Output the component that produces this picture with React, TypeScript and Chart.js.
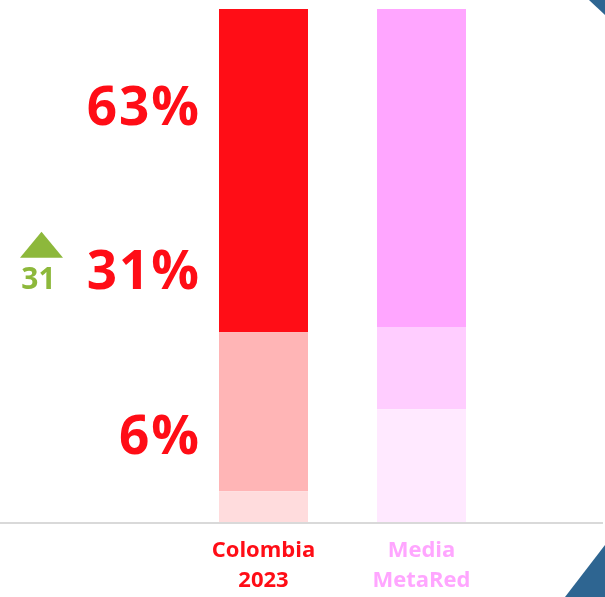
import React, { useEffect, useRef } from "react";
import { Chart, registerables } from "chart.js";

Chart.register(...registerables);

const categories: string[][] = [["Colombia", "2023"], ["Media", "MetaRed"]];
const bottomValues = [6, 22];
const middleValues = [31, 16];
const topValues = [63, 62];
const bottomColors = ["#FFDCDD", "#FFE9FF"];
const middleColors = ["#FFB5B6", "#FFCDFF"];
const topColors = ["#FF0D16", "#FFA6FF"];
const tickColors = ["#FF0D16", "#FFA6FF"];
// Left-side labels (Colombia values) and the y-value at which each sits
const sideLabels = [63, 31, 6];
const sideLabelY = [81, 49, 16.7];
const changeValue = 31;

const FONT = "'Open Sans', 'Noto Sans', sans-serif";

const decorPlugin = {
  id: "decor",
  beforeDraw(chart: any) {
    const { ctx, chartArea, width, height } = chart;
    ctx.save();
    ctx.fillStyle = "#ffffff";
    ctx.fillRect(0, 0, width, height);
    // corner triangles
    ctx.fillStyle = "#2E6591";
    ctx.beginPath();
    ctx.moveTo(589, 0);
    ctx.lineTo(width, 0);
    ctx.lineTo(width, 15);
    ctx.closePath();
    ctx.fill();
    ctx.beginPath();
    ctx.moveTo(565, height);
    ctx.lineTo(width, 545);
    ctx.lineTo(width, height);
    ctx.closePath();
    ctx.fill();
    // baseline
    ctx.strokeStyle = "#D9D9D9";
    ctx.lineWidth = 2;
    ctx.beginPath();
    ctx.moveTo(0, chartArea.bottom + 1);
    ctx.lineTo(603, chartArea.bottom + 1);
    ctx.stroke();
    ctx.restore();
  },
  afterDraw(chart: any) {
    const { ctx } = chart;
    const y = chart.scales.y;
    ctx.save();
    ctx.fillStyle = "#FF0D16";
    ctx.font = `bold 53px ${FONT}`;
    (ctx as any).letterSpacing = "2px";
    ctx.textAlign = "right";
    ctx.textBaseline = "middle";
    sideLabels.forEach((v, i) => {
      ctx.fillText(`${v}%`, 201, y.getPixelForValue(sideLabelY[i]) + 3);
    });
    (ctx as any).letterSpacing = "0px";
    // green change indicator
    const yc = y.getPixelForValue(sideLabelY[1]);
    ctx.fillStyle = "#8DB83B";
    ctx.beginPath();
    ctx.moveTo(41.5, yc - 39);
    ctx.lineTo(63, yc - 13);
    ctx.lineTo(20, yc - 13);
    ctx.closePath();
    ctx.fill();
    ctx.font = `bold 30px ${FONT}`;
    ctx.textAlign = "center";
    ctx.fillText(String(changeValue), 38.5, yc + 10);
    ctx.restore();
  },
};

export default function App() {
  const ref = useRef<HTMLCanvasElement>(null);
  useEffect(() => {
    const chart = new Chart(ref.current!, {
      type: "bar",
      data: {
        labels: categories as any,
        datasets: [
          { data: bottomValues, backgroundColor: bottomColors, borderWidth: 0 },
          { data: middleValues, backgroundColor: middleColors, borderWidth: 0 },
          { data: topValues, backgroundColor: topColors, borderWidth: 0 },
        ],
      },
      options: {
        responsive: false,
        animation: false,
        layout: { padding: { left: 184.5, right: 104.5, top: 9, bottom: 0 } },
        plugins: { legend: { display: false }, tooltip: { enabled: false } },
        datasets: { bar: { categoryPercentage: 1, barPercentage: 89 / 158 } } as any,
        scales: {
          x: {
            stacked: true,
            grid: { display: false },
            border: { display: false },
            ticks: {
              color: (c: any) => tickColors[c.index],
              font: { family: FONT, size: 22, weight: "bold", lineHeight: 1.36 },
              padding: 6,
              maxRotation: 0,
              autoSkip: false,
            },
            afterFit: (s: any) => {
              s.height = 75;
            },
          },
          y: { stacked: true, display: false, min: 0, max: 100 },
        },
      },
      plugins: [decorPlugin],
    });
    return () => chart.destroy();
  }, []);
  return (
    <div style={{ position: "absolute", left: 0, top: 0, width: 605, height: 597 }}>
      <canvas ref={ref} width={605} height={597} style={{ display: "block" }} />
    </div>
  );
}
